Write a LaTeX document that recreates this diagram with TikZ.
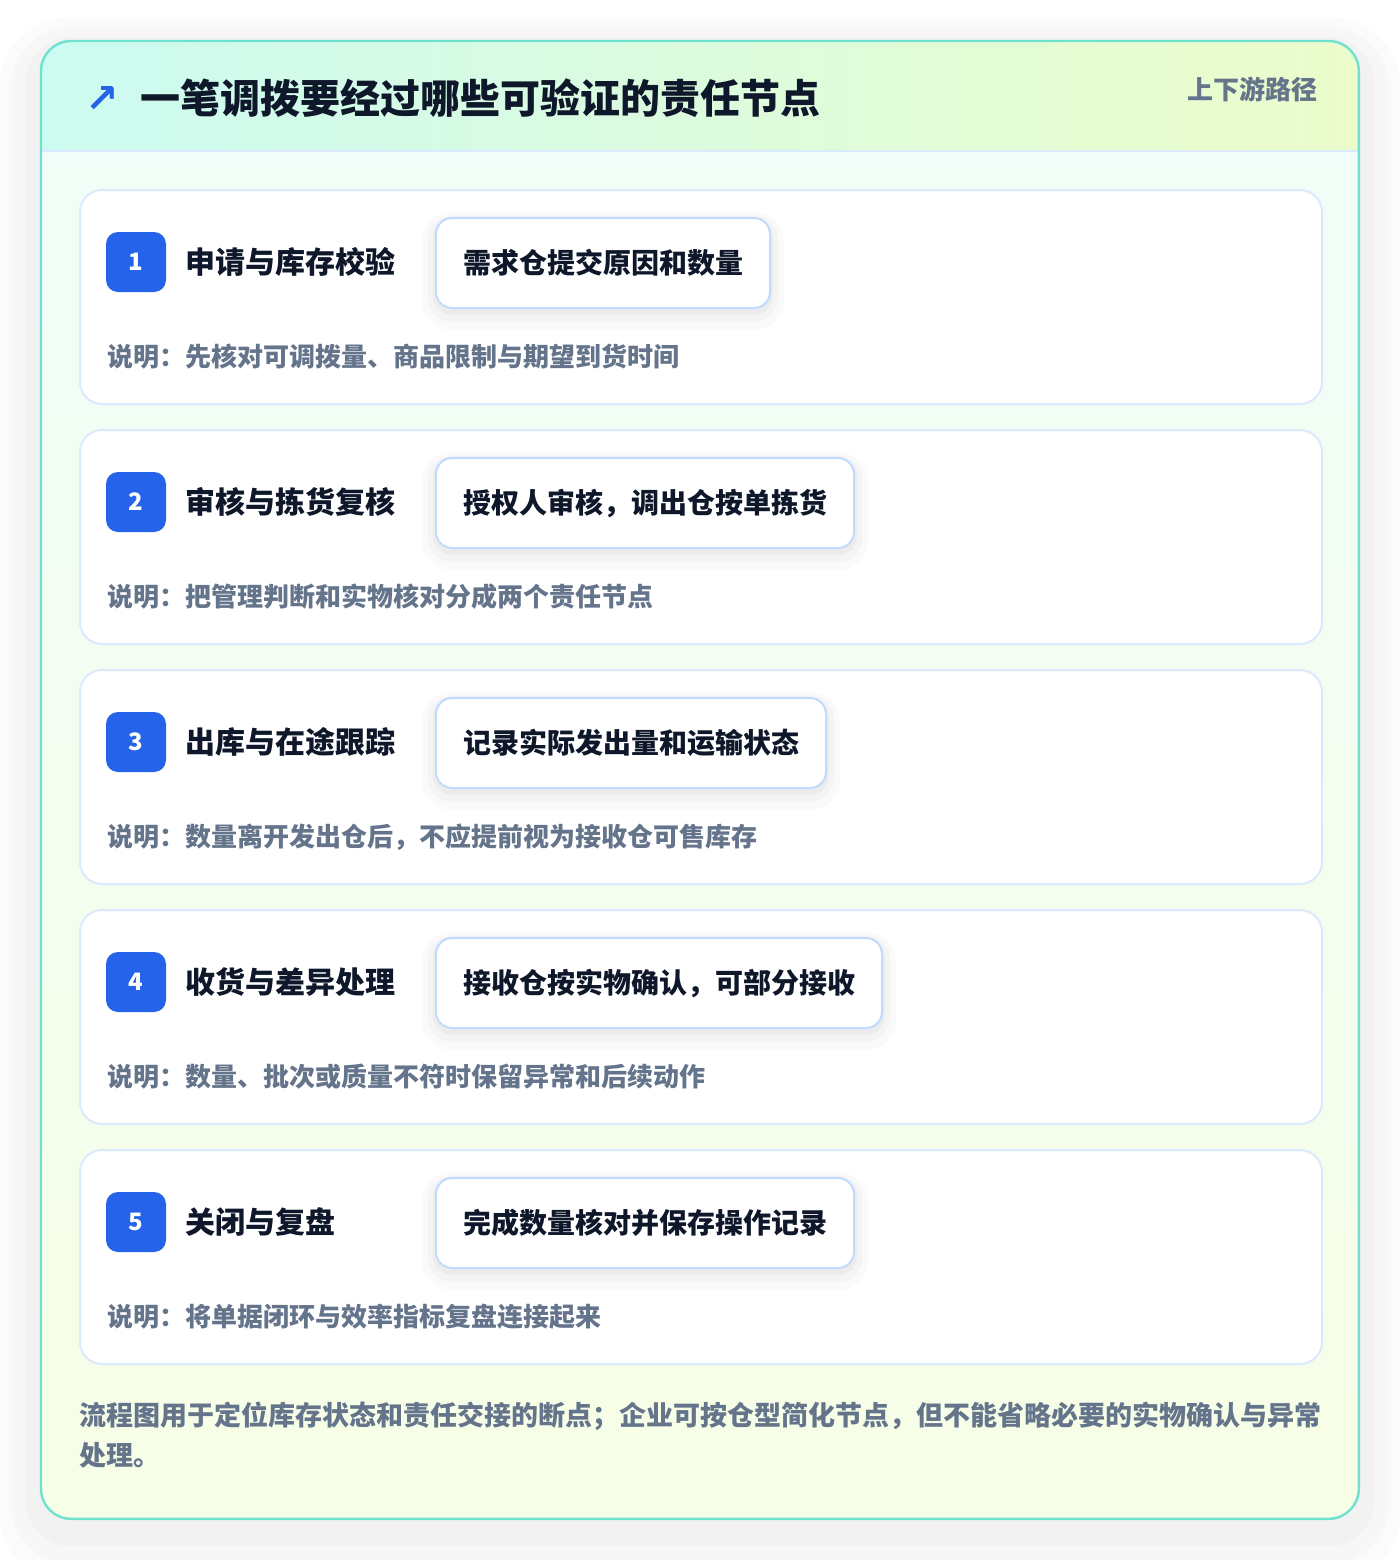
\documentclass[tikz,border=0pt]{standalone}
\usepackage{fontspec}
\setmainfont{Noto Sans CJK SC}
\newfontfamily\symfont{DejaVu Sans}
\definecolor{panelline}{HTML}{6EE2CF}
\definecolor{softline}{HTML}{DBEAFE}
\definecolor{boxline}{HTML}{BFDBFE}
\definecolor{badgeblue}{HTML}{2563EB}
\definecolor{ink}{HTML}{0F172A}
\definecolor{muted}{HTML}{64748B}
\definecolor{mintA}{HTML}{CCFBF1}
\definecolor{limeA}{HTML}{ECFCCB}
\definecolor{mintB}{HTML}{F0FDF9}
\definecolor{limeB}{HTML}{F7FEE7}
\tikzstyle{panelshade} = [preaction={draw=black, draw opacity=0.014, line width=44pt, transform canvas={yshift=-10pt}}, preaction={draw=black, draw opacity=0.016, line width=30pt, transform canvas={yshift=-8pt}}, preaction={draw=black, draw opacity=0.02, line width=16pt, transform canvas={yshift=-6pt}}]
\tikzstyle{boxshade} = [preaction={draw=black, draw opacity=0.02, line width=14pt, transform canvas={yshift=-4pt}}, preaction={draw=black, draw opacity=0.025, line width=8pt, transform canvas={yshift=-3pt}}, preaction={draw=black, draw opacity=0.03, line width=3pt, transform canvas={yshift=-2pt}}]
\tikzstyle{panel} = [rectangle, rounded corners=15pt, minimum width=658.5pt, minimum height=738.5pt, anchor=north west, panelshade, top color=mintB, bottom color=limeB]
\tikzstyle{stepcard} = [rectangle, rounded corners=11pt, draw=softline, line width=1pt, fill=white, minimum width=621pt, minimum height=107pt, anchor=north west]
\tikzstyle{badgebox} = [rectangle, rounded corners=6pt, fill=badgeblue, text=white, minimum size=30pt, inner sep=0pt, font=\bfseries\fontsize{12}{12}\selectfont]
\tikzstyle{steptitle} = [anchor=west, inner sep=0pt, text=ink, font=\bfseries\fontsize{15}{15}\selectfont]
\tikzstyle{actionbox} = [rectangle, rounded corners=8pt, boxshade, draw=boxline, line width=1pt, fill=white, minimum height=45pt, inner xsep=13.5pt, anchor=north west, text=ink, font=\bfseries\fontsize{14}{14}\selectfont]
\tikzstyle{note} = [anchor=west, inner sep=0pt, text=muted, font=\bfseries\fontsize{13}{13}\selectfont]

\begin{document}
\begin{tikzpicture}[x=0.5pt,y=-0.5pt]
\useasboundingbox[fill=white] (0,0) rectangle (1400,1560);
% outer panel and header band
\node[panel] (frame) at (41,41) {};
\begin{scope}
	\clip[rounded corners=15pt] (frame.north west) rectangle (frame.south east);
	\fill[left color=mintA, right color=limeA] (41,41) rectangle (1358,151);
	\draw[softline, line width=1pt] (41,151) -- (1358,151);
\end{scope}
\draw[panelline, line width=1.2pt, rounded corners=15pt] (frame.north west) rectangle (frame.south east);
\node[text=badgeblue, font=\symfont\bfseries\fontsize{20}{20}\selectfont] (icon) at (102,99) {↗};
\node[anchor=west, inner sep=0pt, text=ink, font=\bfseries\fontsize{20}{20}\selectfont] (title) at (140,98) {一笔调拨要经过哪些可验证的责任节点};
\node[anchor=east, inner sep=0pt, text=muted, font=\bfseries\fontsize{13}{13}\selectfont] (route) at (1318,89) {上下游路径};
% five steps
\foreach \n/\name/\act/\desc in {
	1/申请与库存校验/需求仓提交原因和数量/先核对可调拨量、商品限制与期望到货时间,
	2/审核与拣货复核/授权人审核，调出仓按单拣货/把管理判断和实物核对分成两个责任节点,
	3/出库与在途跟踪/记录实际发出量和运输状态/数量离开发出仓后，不应提前视为接收仓可售库存,
	4/收货与差异处理/接收仓按实物确认，可部分接收/数量、批次或质量不符时保留异常和后续动作,
	5/关闭与复盘/完成数量核对并保存操作记录/将单据闭环与效率指标复盘连接起来}{
	\pgfmathsetmacro{\t}{189+240*(\n-1)}
	\node[stepcard] (card\n) at (79,\t) {};
	\node[badgebox] (badge\n) at (136,\t+73) {\n};
	\node[steptitle] (name\n) at (185,\t+73) {\name};
	\node[actionbox] (act\n) at (435,\t+28) {\act};
	\node[note] (desc\n) at (107,\t+168) {说明：\desc};
}
\node[anchor=base west, inner sep=0pt, align=left, text=muted, font=\bfseries\fontsize{13.5}{20}\selectfont] (footer) at (79,1465) {流程图用于定位库存状态和责任交接的断点；企业可按仓型简化节点，但不能省略必要的实物确认与异常\\处理。};
\end{tikzpicture}
\end{document}
